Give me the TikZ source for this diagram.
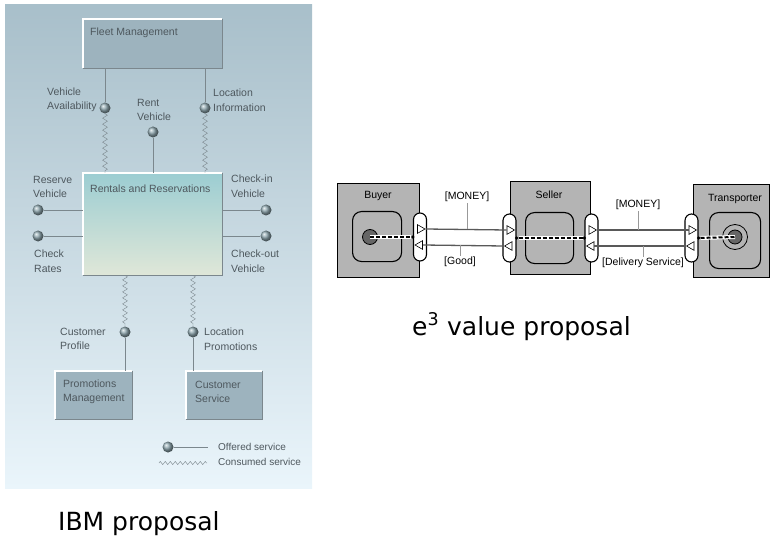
\documentclass[tikz,border=0pt]{standalone}
\usepackage{fontspec}
\setmainfont{Liberation Sans}
\newfontfamily\capfont{DejaVu Sans}
\usetikzlibrary{positioning,shapes.geometric,decorations.pathmorphing,calc}
\definecolor{panelTop}{HTML}{A8BFCA}
\definecolor{panelBot}{HTML}{EAF5FB}
\definecolor{svcFill}{HTML}{9DB3BE}
\definecolor{rrTop}{HTML}{9CCDD2}
\definecolor{rrBot}{HTML}{DFE7D8}
\definecolor{ballCol}{HTML}{8FA8B0}
\definecolor{svcText}{HTML}{4E585E}
\definecolor{svcLine}{HTML}{7B878D}
\definecolor{actFill}{HTML}{B4B4B4}
\tikzset{
  svcbox/.style={fill=svcFill, inner sep=0pt, anchor=north west},
  svctxt/.style={font=\fontsize{10.5}{14.5}\selectfont, text=svcText, align=left, inner sep=0pt, anchor=west},
  ball/.style={circle, shading=ball, ball color=ballCol, minimum size=11pt, inner sep=0pt},
  offer/.style={draw=svcLine, semithick},
  consume/.style={draw=svcLine, thin, decorate, decoration={zigzag, amplitude=2.4pt, segment length=6pt}},
  actor/.style={draw, line width=0.9pt, fill=actFill, anchor=north west, inner sep=0pt},
  inbox/.style={actor, line width=1.1pt, rounded corners=9pt},
  iface/.style={draw, line width=1.1pt, fill=white, rounded corners=6.5pt, minimum width=13pt, minimum height=48pt, inner sep=0pt},
  port/.style={regular polygon, regular polygon sides=3, draw, fill=white, minimum size=10pt, inner sep=0pt, line width=0.6pt},
  xline/.style={draw=black!65, line width=1.3pt},
  dep/.style={draw=black, line width=2pt, dash pattern=on 4pt off 2pt, preaction={draw=white, line width=4pt, solid}},
  enddot/.style={circle, fill=black, minimum size=3.5pt, inner sep=0pt},
  xlbl/.style={font=\fontsize{10.5}{12}\selectfont, inner sep=1pt},
  tick/.style={draw=black!40, line width=0.8pt},
  captxt/.style={font=\capfont\fontsize{25}{29}\selectfont, inner sep=0pt, anchor=base west}}

\begin{document}
\begin{tikzpicture}[x=1pt, y=-1pt]
  \useasboundingbox (0,0) rectangle (770,537);
  % IBM proposal
  \shade[top color=panelTop, bottom color=panelBot] (5,5) rectangle (312,488);
  \node[svcbox, minimum width=139pt, minimum height=49pt] (fm) at (83,19) {};
  \node[svcbox, top color=rrTop, bottom color=rrBot, minimum width=139pt, minimum height=102pt] (rr) at (83,173) {};
  \node[svcbox, minimum width=77pt, minimum height=48pt] (pm) at (55,371) {};
  \node[svcbox, minimum width=76pt, minimum height=48pt] (cs) at (186,371) {};
  \foreach \b in {fm,rr,pm,cs} {
    \draw[white, line width=1.2pt] (\b.south west) -- (\b.north west) -- (\b.north east);
    \draw[svcLine, line width=0.8pt] (\b.north east) -- (\b.south east) -- (\b.south west);
  }
  \foreach \n/\x/\y in {va/105/108, rv/153/132, li/205/108, resv/38/210, chr/38/236, chin/266/210, chout/266/236, cp/125/332, lp/193/332, lball/168/447}
    \node[ball] (\n) at (\x,\y) {};
  \draw[offer] (va.north) -- (va |- fm.south);
  \draw[offer] (li.north) -- (li |- fm.south);
  \draw[consume] (va.south) -- (va |- rr.north);
  \draw[consume] (li.south) -- (li |- rr.north);
  \draw[offer] (rv.south) -- (rv |- rr.north);
  \foreach \n in {resv,chr} \draw[offer] (\n.east) -- (\n -| rr.west);
  \foreach \n in {chin,chout} \draw[offer] (\n.west) -- (\n -| rr.east);
  \draw[consume] (cp |- rr.south) -- (cp.north);
  \draw[consume] (lp |- rr.south) -- (lp.north);
  \draw[offer] (cp.south) -- (cp |- pm.north);
  \draw[offer] (lp.south) -- (lp |- cs.north);
  \foreach \n/\x/\y/\t in {tFM/90/33/{Fleet Management}, tRR/90/189/{Rentals and Reservations},
      tPM/63/392/{Promotions\\Management}, tCS/195/392/{Customer\\Service},
      tVA/47/100/{Vehicle\\Availability}, tRV/137/110/{Rent\\Vehicle}, tLI/213/100/{Location\\Information},
      tRes/33/187/{Reserve\\Vehicle}, tChR/34/261/{Check\\Rates}, tChI/231/186/{Check-in\\Vehicle},
      tChO/231/261/{Check-out\\Vehicle}, tCP/60/339/{Customer\\Profile}, tLP/204/339/{Location\\Promotions}}
    \node[svctxt] (\n) at (\x,\y) {\t};
  % legend
  \coordinate (lEnd) at (208,447);
  \coordinate (zA) at (159,463);
  \coordinate (zB) at (207,463);
  \draw[offer] (lball.east) -- (lEnd);
  \draw[consume, decoration={zigzag, amplitude=1.6pt, segment length=5pt}] (zA) -- (zB);
  \node[svctxt, font=\fontsize{10}{12}\selectfont] (lOff) at (218,447) {Offered service};
  \node[svctxt, font=\fontsize{10}{12}\selectfont] (lCon) at (218,462) {Consumed service};
  \node[captxt] (ibm) at (58,530) {IBM proposal};
  % e3 value proposal
  \node[actor, minimum width=82pt, minimum height=94pt] (buyer) at (337,183) {};
  \node[actor, minimum width=80pt, minimum height=93pt] (seller) at (510,181) {};
  \node[actor, minimum width=76pt, minimum height=93pt] (transp) at (693,184) {};
  \node[xlbl] (bLbl) at (378,196) {Buyer};
  \node[xlbl] (sLbl) at (549,195) {Seller};
  \node[xlbl] (tLbl) at (735,199) {Transporter};
  \node[inbox, minimum width=49pt, minimum height=50pt] (bIn) at (352,211) {};
  \node[inbox, minimum width=48pt, minimum height=51pt] (sIn) at (525,212) {};
  \node[inbox, minimum width=51pt, minimum height=56pt] (tIn) at (709,212) {};
  \node[circle, draw, fill=black!60, line width=0.8pt, minimum size=15pt, inner sep=0pt] (bStart) at (370,237) {};
  \node[circle, draw, fill=actFill, line width=0.8pt, minimum size=25pt, inner sep=0pt] (tStop) at (735,237) {};
  \node[circle, draw, fill=black!60, line width=0.8pt, minimum size=14pt, inner sep=0pt] (tStopIn) at (tStop) {};
  \node[iface] (bIf) at (420,237) {};
  \node[iface] (sIfL) at (509.5,238) {};
  \node[iface] (sIfR) at (591.5,238) {};
  \node[iface] (tIf) at (691.5,238) {};
  \foreach \f in {bIf,sIfL,sIfR,tIf} {
    \node[port, shape border rotate=-90] (\f Out) at ($(\f.center)+(0,-8)$) {};
    \node[port, shape border rotate=90] (\f In) at ($(\f.center)+(0,8)$) {};
  }
  \draw[xline] (bIfOut.east) -- (sIfLOut.west);
  \draw[xline] (sIfLIn.west) -- (bIfIn.east);
  \draw[xline] (sIfROut.east) -- (tIfOut.west);
  \draw[xline] (tIfIn.west) -- (sIfRIn.east);
  \node[enddot] (bDot) at (bIf.west) {};
  \node[enddot] (sDotL) at (sIfL.east) {};
  \node[enddot] (sDotR) at (sIfR.west) {};
  \node[enddot] (tDot) at (tIf.east) {};
  \draw[dep] (bStart.center) -- (bDot);
  \draw[dep] (sDotL) -- (sDotR);
  \draw[dep] (tDot) -- (tStop.center);
  \node[xlbl] (m1) at (467,197) {[MONEY]};
  \node[xlbl] (g1) at (460,262) {[Good]};
  \node[xlbl] (m2) at (638,205) {[MONEY]};
  \node[xlbl] (d2) at (643,263) {[Delivery Service]};
  \draw[tick] (m1.south) -- (m1.south |- bIfOut.east);
  \draw[tick] (g1.north) -- (g1.north |- bIfIn.center);
  \draw[tick] (m2.south) -- (m2.south |- sIfROut.east);
  \draw[tick] (d2.north) -- (d2.north |- sIfRIn.center);
  \node[captxt] (e3) at (412,335) {e\textsuperscript{3} value proposal};
\end{tikzpicture}
\end{document}
